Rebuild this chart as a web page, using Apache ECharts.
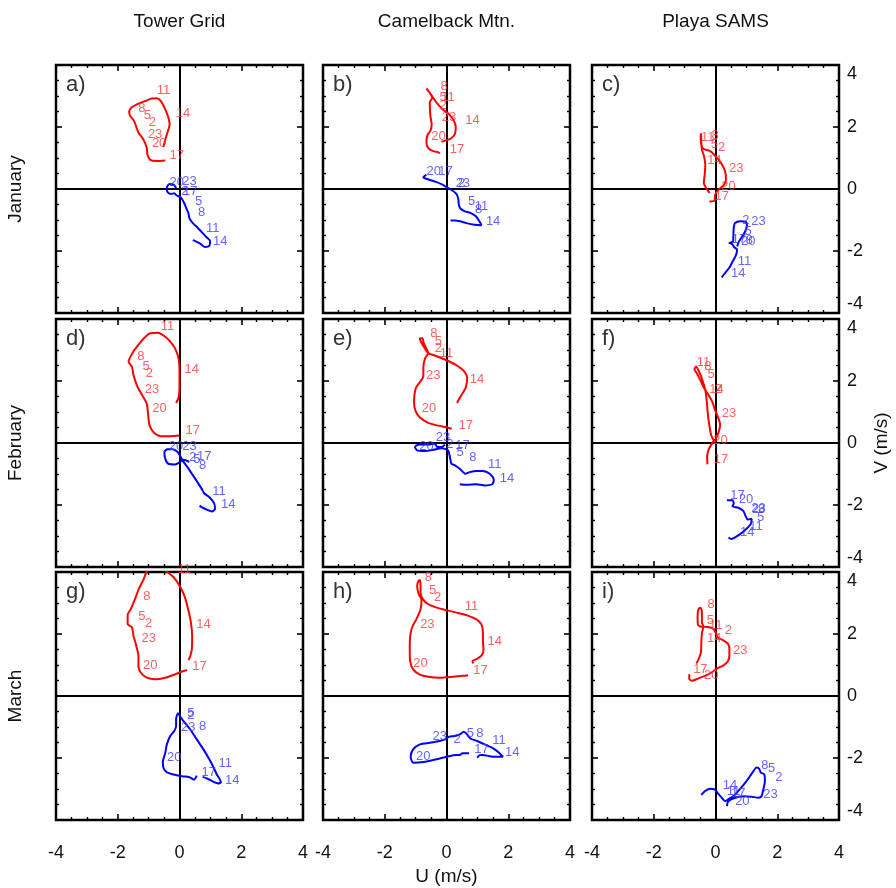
<!DOCTYPE html>
<html>
<head>
<meta charset="utf-8">
<script src="https://cdn.jsdelivr.net/npm/echarts@6.0.0/dist/echarts.min.js"></script>
<style>
html,body{margin:0;padding:0;background:#fff;}
#chart{width:896px;height:888px;}
</style>
</head>
<body>
<div id="chart"></div>
<script>
// ---------------- DATA ----------------
const columnTitles = ['Tower Grid', 'Camelback Mtn.', 'Playa SAMS'];
const rowTitles = ['January', 'February', 'March'];
const panelTags = ['a)', 'b)', 'c)', 'd)', 'e)', 'f)', 'g)', 'h)', 'i)'];
const axisTicks = [-4, -2, 0, 2, 4];
const xAxisName = 'U (m/s)';
const yAxisName = 'V (m/s)';

// a) Tower Grid, January
const aRed = [[-0.46,0.92],[-0.74,0.90],[-0.95,0.94],[-1.04,1.11],[-1.06,1.33],[-1.17,1.60],[-1.33,1.82],[-1.47,2.19],[-1.60,2.36],[-1.63,2.50],[-1.55,2.63],[-1.36,2.74],[-1.11,2.84],[-0.90,2.92],[-0.74,2.93],[-0.61,2.84],[-0.46,2.57],[-0.36,2.30],[-0.32,2.09],[-0.39,1.82],[-0.46,1.60],[-0.52,1.35]];
const aRedHr = [[-0.52,3.17,'11'],[0.11,2.43,'14'],[-1.22,2.59,'8'],[-1.04,2.36,'5'],[-0.88,2.16,'2'],[-0.79,1.76,'23'],[-0.66,1.46,'20'],[-0.09,1.08,'17']];
const aBlue = [[-0.11,0.03],[-0.19,0.14],[-0.32,0.16],[-0.41,0.05],[-0.39,-0.10],[-0.28,-0.16],[-0.17,-0.14],[-0.09,-0.21],[0.04,-0.27],[0.15,-0.45],[0.22,-0.62],[0.29,-0.78],[0.32,-0.94],[0.43,-1.10],[0.58,-1.24],[0.72,-1.39],[0.86,-1.54],[0.99,-1.68],[0.97,-1.83],[0.83,-1.87],[0.67,-1.76],[0.51,-1.68],[0.43,-1.65]];
const aBlueHr = [[-0.09,0.22,'20'],[0.32,0.24,'23'],[0.17,-0.07,'2'],[0.35,-0.07,'17'],[0.62,-0.40,'5'],[0.72,-0.76,'8'],[1.08,-1.26,'11'],[1.32,-1.70,'14']];

// b) Camelback Mtn., January
const bRed = [[-0.22,1.14],[-0.26,1.18],[-0.43,1.22],[-0.59,1.32],[-0.65,1.52],[-0.62,1.73],[-0.52,1.88],[-0.48,2.08],[-0.52,2.34],[-0.54,2.61],[-0.54,2.80],[-0.46,2.94],[-0.56,3.13],[-0.65,3.24],[-0.54,3.10],[-0.41,2.91],[-0.27,2.72],[-0.11,2.56],[0.09,2.40],[0.24,2.20],[0.30,1.99],[0.27,1.77],[0.13,1.62],[-0.05,1.56],[-0.16,1.52]];
const bRedHr = [[-0.08,3.31,'8'],[-0.11,2.94,'5'],[0.05,2.94,'11'],[-0.11,2.70,'2'],[0.08,2.32,'23'],[0.84,2.20,'14'],[-0.26,1.71,'20'],[0.34,1.29,'17']];
const bBlue = [[-0.65,0.46],[-0.75,0.38],[-0.56,0.30],[-0.34,0.23],[-0.13,0.14],[0.02,0.05],[0.19,-0.05],[0.32,-0.16],[0.38,-0.31],[0.40,-0.51],[0.45,-0.63],[0.59,-0.72],[0.77,-0.77],[0.95,-0.88],[1.10,-1.10],[1.13,-1.17],[0.91,-1.15],[0.65,-1.10],[0.43,-1.04],[0.27,-1.02],[0.13,-1.02]];
const bBlueHr = [[-0.41,0.57,'20'],[-0.03,0.57,'17'],[0.49,0.17,'2'],[0.53,0.19,'23'],[0.81,-0.40,'5'],[1.04,-0.67,'8'],[1.13,-0.56,'11'],[1.51,-1.04,'14']];

// c) Playa SAMS, January
const cRed = [[-0.20,-0.40],[-0.03,-0.37],[-0.01,-0.18],[0.10,-0.02],[0.26,0.12],[0.34,0.30],[0.31,0.57],[0.18,0.84],[0.01,1.05],[-0.17,1.22],[-0.39,1.30],[-0.46,1.43],[-0.48,1.65],[-0.47,1.78],[-0.46,1.52],[-0.44,1.27],[-0.37,1.05],[-0.33,0.78],[-0.35,0.46],[-0.38,0.19],[-0.30,0.03],[-0.19,-0.13]];
const cRedHr = [[-0.25,1.65,'11'],[-0.01,1.72,'8'],[-0.04,1.45,'5'],[0.20,1.35,'2'],[-0.03,0.91,'14'],[0.67,0.66,'23'],[0.42,0.09,'20'],[0.20,-0.24,'17']];
const cBlue = [[0.20,-2.85],[0.31,-2.71],[0.44,-2.55],[0.55,-2.35],[0.66,-2.14],[0.70,-1.96],[0.61,-1.88],[0.53,-1.77],[0.45,-1.74],[0.57,-1.69],[0.58,-1.47],[0.59,-1.26],[0.63,-1.10],[0.80,-1.04],[0.98,-1.06],[1.02,-1.20],[0.96,-1.37],[0.85,-1.56],[0.76,-1.69],[0.70,-1.85]];
const cBlueHr = [[0.98,-1.02,'2'],[1.39,-1.04,'23'],[1.06,-1.37,'5'],[0.76,-1.63,'17'],[1.06,-1.69,'20'],[1.10,-1.66,'8'],[0.94,-2.33,'11'],[0.74,-2.72,'14']];

// d) Tower Grid, February
const dRed = [[-0.11,1.29],[-0.03,1.47],[0.00,1.81],[0.00,2.24],[-0.02,2.67],[-0.11,2.98],[-0.25,3.21],[-0.46,3.43],[-0.71,3.56],[-0.95,3.54],[-1.16,3.37],[-1.36,3.13],[-1.53,2.89],[-1.65,2.62],[-1.54,2.46],[-1.49,2.19],[-1.36,1.81],[-1.19,1.51],[-1.06,1.27],[-1.02,0.95],[-0.97,0.57],[-0.82,0.32],[-0.60,0.22],[-0.30,0.22],[0.00,0.24]];
const dRedHr = [[-0.39,3.77,'11'],[-1.25,2.78,'8'],[-1.08,2.48,'5'],[-0.98,2.26,'2'],[0.40,2.37,'14'],[-0.89,1.73,'23'],[-0.65,1.10,'20'],[0.43,0.41,'17']];
const dBlue = [[0.32,-0.61],[0.13,-0.54],[0.02,-0.61],[-0.14,-0.69],[-0.36,-0.67],[-0.46,-0.51],[-0.49,-0.29],[-0.39,-0.20],[-0.22,-0.20],[-0.06,-0.29],[0.04,-0.45],[0.13,-0.61],[0.26,-0.78],[0.40,-0.99],[0.56,-1.23],[0.72,-1.48],[0.80,-1.62],[0.97,-1.75],[1.12,-1.94],[1.15,-2.12],[1.05,-2.21],[0.88,-2.15],[0.72,-2.07],[0.65,-2.02]];
const dBlueHr = [[-0.11,-0.11,'20'],[0.32,-0.11,'23'],[0.43,-0.45,'2'],[0.56,-0.52,'5'],[0.80,-0.43,'17'],[0.75,-0.72,'8'],[1.28,-1.55,'11'],[1.58,-1.98,'14']];

// e) Camelback Mtn., February
const eRed = [[0.34,1.29],[0.48,1.54],[0.62,1.78],[0.67,2.08],[0.59,2.29],[0.32,2.51],[0.00,2.67],[-0.32,2.80],[-0.59,2.90],[-0.73,3.10],[-0.84,3.29],[-0.86,3.37],[-0.78,3.38],[-0.74,3.23],[-0.67,3.08],[-0.59,2.90],[-0.70,2.72],[-0.75,2.40],[-0.75,2.15],[-0.86,1.97],[-0.99,1.78],[-1.04,1.54],[-1.05,1.29],[-1.00,1.03],[-0.86,0.82],[-0.59,0.65],[-0.27,0.56],[-0.02,0.51],[0.17,0.46]];
const eRedHr = [[-0.41,3.55,'8'],[-0.26,3.29,'5'],[-0.26,3.06,'2'],[0.00,2.88,'11'],[-0.43,2.18,'23'],[0.99,2.05,'14'],[-0.57,1.13,'20'],[0.62,0.57,'17']];
const eBlue = [[0.43,-1.33],[0.65,-1.35],[0.97,-1.33],[1.24,-1.37],[1.48,-1.33],[1.53,-1.18],[1.40,-0.99],[1.18,-0.90],[0.97,-0.90],[0.75,-0.94],[0.61,-0.99],[0.43,-0.83],[0.27,-0.72],[0.16,-0.67],[0.11,-0.45],[0.05,-0.24],[-0.16,-0.17],[-0.43,-0.22],[-0.70,-0.26],[-0.95,-0.24],[-1.02,-0.13],[-0.88,-0.05],[-0.59,-0.05],[-0.38,-0.02],[-0.30,-0.13],[-0.16,-0.13],[-0.05,-0.05]];
const eBlueHr = [[-0.65,-0.11,'20'],[-0.11,0.17,'23'],[0.11,-0.04,'2'],[0.52,-0.09,'17'],[0.44,-0.32,'5'],[0.85,-0.45,'8'],[1.56,-0.70,'11'],[1.96,-1.15,'14']];

// f) Playa SAMS, February
const fRed = [[-0.26,-0.69],[-0.27,-0.45],[-0.23,-0.24],[-0.12,-0.02],[0.01,0.14],[0.10,0.35],[0.15,0.59],[0.10,0.78],[-0.01,1.05],[-0.10,1.32],[-0.25,1.59],[-0.39,1.81],[-0.49,2.02],[-0.60,2.24],[-0.68,2.37],[-0.63,2.47],[-0.55,2.34],[-0.44,2.08],[-0.33,1.70],[-0.28,1.32],[-0.25,0.95],[-0.20,0.57],[-0.14,0.25],[-0.06,0.09]];
const fRedHr = [[-0.39,2.61,'11'],[-0.25,2.47,'8'],[-0.14,2.22,'5'],[0.03,1.74,'14'],[0.09,1.74,'2'],[0.44,0.94,'23'],[0.16,0.09,'20'],[0.18,-0.53,'17']];
const fBlue = [[0.37,-1.85],[0.55,-1.85],[0.59,-1.96],[0.55,-2.04],[0.74,-2.09],[0.90,-2.19],[0.98,-2.37],[1.04,-2.47],[1.17,-2.44],[1.15,-2.60],[1.01,-2.76],[0.85,-2.90],[0.66,-3.03],[0.51,-3.10],[0.42,-3.05]];
const fBlueHr = [[0.71,-1.69,'17'],[0.99,-1.83,'20'],[1.30,-2.15,'2'],[1.39,-2.12,'23'],[1.49,-2.15,'8'],[1.46,-2.41,'5'],[1.31,-2.69,'11'],[1.03,-2.90,'14']];

// g) Tower Grid, March
const gRed = [[0.29,1.16],[0.35,1.29],[0.40,1.51],[0.41,1.94],[0.37,2.37],[0.28,2.80],[0.16,3.23],[0.00,3.56],[-0.19,3.83],[-0.41,4.01],[-0.63,4.15],[-0.89,4.15],[-1.06,4.01],[-1.16,3.77],[-1.32,3.45],[-1.44,3.13],[-1.57,2.82],[-1.68,2.61],[-1.68,2.32],[-1.54,2.21],[-1.49,1.94],[-1.40,1.62],[-1.33,1.29],[-1.33,0.97],[-1.25,0.75],[-1.06,0.59],[-0.79,0.54],[-0.46,0.59],[-0.14,0.70],[0.11,0.80],[0.24,0.84]];
const gRedHr = [[0.15,4.08,'11'],[-1.06,3.20,'8'],[-1.22,2.57,'5'],[-1.00,2.35,'2'],[0.78,2.30,'14'],[-1.00,1.85,'23'],[-0.95,1.00,'20'],[0.65,0.97,'17']];
const gBlue = [[0.56,-2.57],[0.47,-2.70],[0.32,-2.62],[0.08,-2.59],[-0.19,-2.53],[-0.41,-2.46],[-0.52,-2.32],[-0.54,-2.13],[-0.46,-1.83],[-0.41,-1.56],[-0.30,-1.29],[-0.17,-1.13],[-0.11,-0.97],[-0.11,-0.75],[-0.05,-0.56],[0.00,-0.63],[0.13,-0.81],[0.35,-1.08],[0.56,-1.40],[0.78,-1.73],[0.97,-2.05],[1.08,-2.26],[1.21,-2.53],[1.34,-2.78],[1.26,-2.82],[1.10,-2.77],[0.91,-2.67],[0.75,-2.61]];
const gBlueHr = [[0.37,-0.55,'5'],[0.37,-0.62,'2'],[0.28,-1.00,'23'],[0.75,-0.97,'8'],[-0.17,-1.99,'20'],[1.48,-2.19,'11'],[0.95,-2.45,'17'],[1.71,-2.72,'14']];

// h) Camelback Mtn., March
const hRed = [[0.86,1.05],[0.84,1.13],[0.99,1.20],[1.14,1.31],[1.20,1.48],[1.18,1.74],[1.18,2.04],[1.13,2.31],[0.97,2.47],[0.67,2.60],[0.32,2.69],[0.00,2.77],[-0.32,2.85],[-0.59,2.96],[-0.75,3.10],[-0.84,3.33],[-0.84,3.55],[-0.86,3.74],[-0.91,3.71],[-0.95,3.55],[-0.90,3.28],[-0.81,3.10],[-0.84,2.80],[-0.97,2.49],[-1.12,2.20],[-1.18,1.88],[-1.19,1.51],[-1.18,1.13],[-1.08,0.86],[-0.88,0.70],[-0.59,0.62],[-0.22,0.59],[0.22,0.62],[0.54,0.65],[0.70,0.67]];
const hRedHr = [[-0.59,3.82,'8'],[-0.45,3.42,'5'],[-0.29,3.17,'2'],[0.81,2.90,'11'],[-0.62,2.31,'23'],[1.56,1.75,'14'],[-0.84,1.04,'20'],[1.10,0.81,'17']];
const hBlue = [[0.73,-1.85],[0.52,-1.85],[0.43,-1.90],[0.22,-1.91],[0.00,-1.96],[-0.32,-2.04],[-0.75,-2.13],[-1.08,-2.15],[-1.16,-1.96],[-1.08,-1.72],[-0.86,-1.56],[-0.54,-1.51],[-0.22,-1.45],[-0.05,-1.40],[0.09,-1.31],[0.27,-1.29],[0.43,-1.24],[0.56,-1.15],[0.67,-1.24],[0.77,-1.37],[0.99,-1.45],[1.24,-1.56],[1.51,-1.69],[1.70,-1.83],[1.83,-1.96],[1.61,-1.96],[1.38,-1.94],[1.18,-1.90],[1.08,-1.91],[0.99,-1.99]];
const hBlueHr = [[-0.22,-1.29,'23'],[0.34,-1.40,'2'],[0.77,-1.22,'5'],[1.08,-1.20,'8'],[1.70,-1.42,'11'],[2.13,-1.81,'14'],[1.13,-1.72,'17'],[-0.75,-1.94,'20']];

// i) Playa SAMS, March
const iRed = [[-0.85,0.70],[-0.85,0.56],[-0.76,0.49],[-0.57,0.56],[-0.35,0.65],[-0.14,0.75],[0.04,0.88],[0.26,0.99],[0.40,1.12],[0.45,1.31],[0.45,1.53],[0.40,1.69],[0.23,1.81],[0.08,1.88],[0.01,2.04],[-0.10,2.19],[-0.31,2.23],[-0.49,2.24],[-0.57,2.31],[-0.58,2.58],[-0.55,2.80],[-0.48,2.85],[-0.44,2.69],[-0.44,2.37],[-0.39,2.24],[-0.44,2.04],[-0.46,1.72],[-0.47,1.42],[-0.55,1.18],[-0.62,1.05]];
const iRedHr = [[-0.14,2.96,'8'],[-0.17,2.45,'5'],[0.01,2.28,'11'],[0.42,2.10,'2'],[-0.04,1.85,'14'],[0.80,1.47,'23'],[-0.49,0.86,'17'],[-0.14,0.67,'20']];
const iBlue = [[-0.46,-3.19],[-0.33,-3.06],[-0.17,-2.99],[-0.03,-3.01],[0.08,-3.14],[0.20,-3.28],[0.31,-3.39],[0.42,-3.33],[0.58,-3.23],[0.74,-3.06],[0.96,-2.80],[1.12,-2.58],[1.23,-2.42],[1.33,-2.31],[1.41,-2.34],[1.47,-2.47],[1.58,-2.53],[1.60,-2.74],[1.55,-3.01],[1.49,-3.23],[1.39,-3.28],[1.17,-3.25],[0.96,-3.23],[0.74,-3.25],[0.53,-3.33],[0.40,-3.42],[0.37,-3.55]];
const iBlueHr = [[1.60,-2.24,'8'],[1.82,-2.34,'5'],[2.05,-2.63,'2'],[1.78,-3.17,'23'],[0.47,-2.90,'14'],[0.58,-3.08,'11'],[0.74,-3.14,'17'],[0.87,-3.39,'20']];

// ---------------- LAYOUT ----------------
const panelRed = [aRed, bRed, cRed, dRed, eRed, fRed, gRed, hRed, iRed];
const panelRedHr = [aRedHr, bRedHr, cRedHr, dRedHr, eRedHr, fRedHr, gRedHr, hRedHr, iRedHr];
const panelBlue = [aBlue, bBlue, cBlue, dBlue, eBlue, fBlue, gBlue, hBlue, iBlue];
const panelBlueHr = [aBlueHr, bBlueHr, cBlueHr, dBlueHr, eBlueHr, fBlueHr, gBlueHr, hBlueHr, iBlueHr];

const colLeft = [56, 323, 592];
const rowTop = [65, 319, 572];
const PW = 247, PH = 248;
const FONT = '"Liberation Sans", Arial, Helvetica, sans-serif';
const RED = '#ff0000', BLUE = '#0000ff';
const RED_TXT = '#ff3a3a', BLUE_TXT = '#3c3cff';

const grids = [], xAxes = [], yAxes = [], series = [], graphics = [];

function axisBase(gi, pos, showLabel, isX) {
  const ax = {
    type: 'value', gridIndex: gi, position: pos,
    min: axisTicks[0], max: axisTicks[axisTicks.length - 1],
    interval: axisTicks[1] - axisTicks[0],
    axisLine: { show: false, onZero: false },
    splitLine: { show: false },
    axisTick: { show: true, inside: true, length: 6, lineStyle: { color: '#000', width: 1.6 } },
    minorTick: { show: true, splitNumber: 4, length: 3, lineStyle: { color: '#000', width: 1.4 } },
    axisLabel: { show: false }
  };
  if (showLabel) {
    ax.axisLabel = {
      show: true, fontSize: 18, color: '#111', fontFamily: FONT,
      formatter: v => String(v)
    };
    if (isX) {
      ax.axisLabel.margin = 24;
    } else {
      ax.axisLabel.margin = 8;
      ax.axisLabel.verticalAlignMaxLabel = 'top';
      ax.axisLabel.verticalAlignMinLabel = 'bottom';
    }
  }
  return ax;
}

for (let r = 0; r < 3; r++) {
  for (let c = 0; c < 3; c++) {
    const i = r * 3 + c;
    grids.push({
      left: colLeft[c], top: rowTop[r], width: PW, height: PH,
      show: true, borderColor: '#000', borderWidth: 2.5,
      backgroundColor: 'transparent', containLabel: false, outerBoundsMode: 'none'
    });
    xAxes.push(axisBase(i, 'bottom', r === 2, true));
    xAxes.push(axisBase(i, 'top', false, true));
    yAxes.push(axisBase(i, 'left', false, false));
    yAxes.push(axisBase(i, 'right', c === 2, false));

    const xi = 2 * i, yi = 2 * i;
    // zero cross lines
    series.push({
      type: 'line', xAxisIndex: xi, yAxisIndex: yi, data: [], symbol: 'none', z: 1,
      silent: true,
      markLine: {
        silent: true, z: 1, symbol: ['none', 'none'], label: { show: false },
        lineStyle: { color: '#000', width: 2, type: 'solid' },
        emphasis: { disabled: true },
        data: [{ xAxis: 0 }, { yAxis: 0 }]
      }
    });
    [[panelRed[i], RED], [panelBlue[i], BLUE]].forEach(([d, col]) => {
      series.push({
        type: 'line', xAxisIndex: xi, yAxisIndex: yi, data: d,
        symbol: 'none', smooth: 0.25, z: 3, silent: true, clip: true,
        lineStyle: { color: col, width: 2 }
      });
    });
    [[panelRedHr[i], RED_TXT], [panelBlueHr[i], BLUE_TXT]].forEach(([d, col]) => {
      series.push({
        type: 'scatter', xAxisIndex: xi, yAxisIndex: yi, data: d,
        symbolSize: 1, clip: false, z: 6, silent: true,
        itemStyle: { color: 'rgba(0,0,0,0)' },
        label: {
          show: true, position: 'inside', color: col, fontSize: 13, fontFamily: FONT,
          formatter: p => p.data[2]
        }
      });
    });
    graphics.push({
      type: 'text', left: colLeft[c] + 10, top: rowTop[r] + 9,
      style: { text: panelTags[i], fontSize: 22, fontFamily: FONT, fill: '#333' }
    });
  }
}

columnTitles.forEach((t, c) => {
  graphics.push({
    type: 'text', x: colLeft[c] + PW / 2, y: 22,
    style: { text: t, fontSize: 19, fontFamily: FONT, fill: '#111', align: 'center', verticalAlign: 'middle' }
  });
});
rowTitles.forEach((t, r) => {
  graphics.push({
    type: 'text', x: 16, y: rowTop[r] + PH / 2, rotation: Math.PI / 2,
    style: { text: t, fontSize: 19, fontFamily: FONT, fill: '#111', align: 'center', verticalAlign: 'middle' }
  });
});
graphics.push({
  type: 'text', x: 882, y: rowTop[1] + PH / 2, rotation: Math.PI / 2,
  style: { text: yAxisName, fontSize: 19, fontFamily: FONT, fill: '#111', align: 'center', verticalAlign: 'middle' }
});
graphics.push({
  type: 'text', x: colLeft[1] + PW / 2, y: 877,
  style: { text: xAxisName, fontSize: 19, fontFamily: FONT, fill: '#111', align: 'center', verticalAlign: 'middle' }
});

const chart = echarts.init(document.getElementById('chart'), null, { renderer: 'canvas' });
chart.setOption({
  animation: false,
  backgroundColor: '#fff',
  grid: grids, xAxis: xAxes, yAxis: yAxes, series: series, graphic: graphics
});
</script>
</body>
</html>
